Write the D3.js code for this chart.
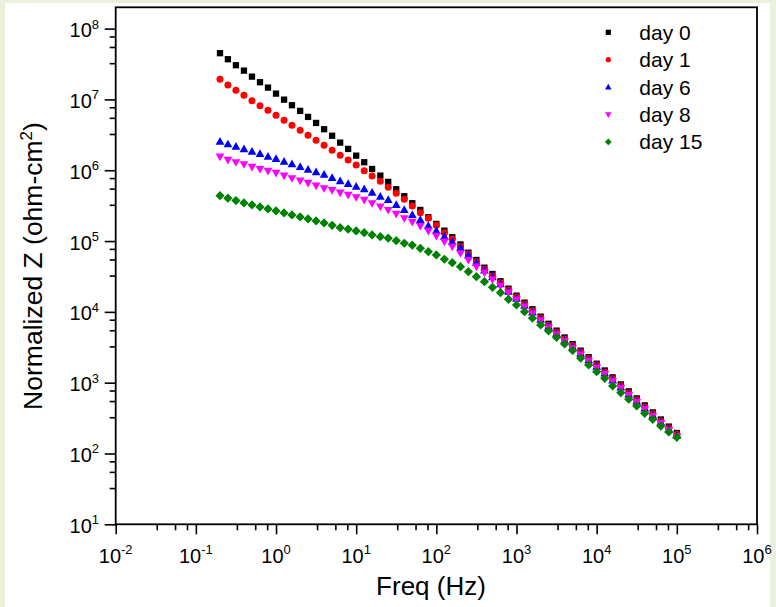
<!DOCTYPE html>
<html>
<head>
<meta charset="utf-8">
<script src="https://cdn.jsdelivr.net/npm/d3@7"></script>
<style>
  body { margin: 0; padding: 0; background: #e9f1da; }
  svg { display: block; }
  text { font-family: "Liberation Sans", Arial, sans-serif; fill: #000; }
</style>
</head>
<body>
<svg id="chart" width="776" height="607"></svg>
<script>
// ---------- DATA ----------
const seriesNames = ["day 0", "day 1", "day 6", "day 8", "day 15"];
const seriesColors = ["#000000", "#ff0000", "#0000ff", "#ff00ff", "#008000"];
const seriesShapes = ["square", "circle", "triangleUp", "triangleDown", "diamond"];

const freqHz = [0.2, 0.251, 0.316, 0.398, 0.501, 0.631, 0.794,
  1, 1.26, 1.58, 2, 2.51, 3.16, 3.98, 5.01, 6.31, 7.94,
  10, 12.6, 15.8, 20, 25.1, 31.6, 39.8, 50.1, 63.1, 79.4,
  100, 126, 158, 200, 251, 316, 398, 501, 631, 794,
  1000, 1260, 1580, 2000, 2510, 3160, 3980, 5010, 6310, 7940,
  10000, 12600, 15800, 20000, 25100, 31600, 39800, 50100, 63100, 79400,
  100000];

// log10 of normalized impedance (ohm-cm^2)
const day0LogZ = [7.653,7.568,7.483,7.407,7.322,7.243,7.167,7.082,6.997,6.918,
  6.838,6.753,6.668,6.579,6.487,6.390,6.301,6.206,6.113,6.018,
  5.924,5.835,5.732,5.633,5.534,5.439,5.336,5.242,5.147,5.054,
  4.952,4.836,4.733,4.624,4.535,4.432,4.328,4.229,4.130,4.037,
  3.932,3.832,3.735,3.638,3.545,3.452,3.360,3.268,3.172,3.075,
  2.975,2.878,2.778,2.680,2.580,2.480,2.380,2.290];
const day1LogZ = [7.285,7.205,7.130,7.059,6.983,6.912,6.847,6.777,6.706,6.636,
  6.565,6.494,6.424,6.353,6.282,6.212,6.145,6.075,5.994,5.919,
  5.845,5.760,5.675,5.590,5.496,5.401,5.322,5.223,5.119,5.030,
  4.924,4.818,4.709,4.606,4.507,4.410,4.310,4.210,4.110,4.015,
  3.912,3.812,3.715,3.618,3.525,3.432,3.340,3.248,3.152,3.055,
  2.955,2.858,2.758,2.660,2.560,2.460,2.360,2.270];
const day6LogZ = [6.404,6.367,6.333,6.297,6.263,6.230,6.192,6.160,6.121,6.085,
  6.047,6.008,5.972,5.938,5.891,5.845,5.806,5.768,5.732,5.684,
  5.627,5.581,5.510,5.439,5.369,5.299,5.213,5.143,5.062,4.987,
  4.905,4.800,4.690,4.585,4.490,4.390,4.285,4.185,4.088,3.992,
  3.890,3.790,3.692,3.595,3.502,3.410,3.318,3.225,3.130,3.032,
  2.932,2.835,2.735,2.638,2.538,2.438,2.340,2.250];
const day8LogZ = [6.192,6.146,6.113,6.085,6.047,6.018,5.990,5.962,5.924,5.887,
  5.853,5.821,5.782,5.746,5.719,5.684,5.651,5.619,5.581,5.534,
  5.486,5.439,5.383,5.322,5.270,5.213,5.143,5.072,4.992,4.921,
  4.828,4.733,4.638,4.554,4.460,4.366,4.271,4.172,4.075,3.980,
  3.878,3.778,3.680,3.584,3.490,3.398,3.306,3.214,3.120,3.022,
  2.922,2.825,2.726,2.628,2.528,2.428,2.330,2.240];
const day15LogZ = [5.641,5.605,5.571,5.538,5.510,5.482,5.453,5.425,5.397,5.369,
  5.340,5.312,5.284,5.256,5.222,5.189,5.167,5.143,5.119,5.086,
  5.062,5.040,5.006,4.969,4.941,4.898,4.850,4.804,4.743,4.695,
  4.638,4.568,4.497,4.427,4.347,4.271,4.178,4.097,4.003,3.910,
  3.815,3.730,3.641,3.547,3.455,3.345,3.250,3.155,3.062,2.953,
  2.859,2.766,2.671,2.568,2.483,2.388,2.304,2.229];

const xMajorExp = [-2, -1, 0, 1, 2, 3, 4, 5, 6];
const yMajorExp = [1, 2, 3, 4, 5, 6, 7, 8];
const minorMultipliers = [3.25, 5.5, 7.75];
const xDomain = [1e-2, 1e6];
const yDomain = [10, 2e8];
const xTitle = "Freq (Hz)";
const yTitleMain = "Normalized Z (ohm-cm";
const yTitleSup = "2";
const yTitleEnd = ")";

// ---------- LAYOUT ----------
const svg = d3.select("#chart");
const L = 115.7, R = 757, T = 7.3, B = 524.3;

svg.append("rect").attr("x", 0).attr("y", 0).attr("width", 776).attr("height", 607).attr("fill", "#e9f1da");
svg.append("rect").attr("x", 5).attr("y", 3).attr("width", 765).attr("height", 604).attr("fill", "#ffffff");

const x = d3.scaleLog().domain(xDomain).range([L, R]);
const y = d3.scaleLog().domain(yDomain).range([B, T]);

function minorsFor(exps, domain) {
  const out = [];
  for (let e = exps[0] - 1; e <= exps[exps.length - 1]; e++) {
    minorMultipliers.forEach(m => {
      const v = m * Math.pow(10, e);
      if (v > domain[0] && v < domain[1]) out.push(v);
    });
  }
  return out;
}

// X axis
const xMajor = xMajorExp.map(e => Math.pow(10, e));
const gx = svg.append("g").attr("transform", `translate(0,${B})`);
gx.call(d3.axisBottom(x).tickValues(minorsFor(xMajorExp, xDomain)).tickSize(6).tickSizeOuter(0).tickFormat(""));
const gxM = svg.append("g").attr("transform", `translate(0,${B})`);
gxM.call(d3.axisBottom(x).tickValues(xMajor).tickSize(10).tickSizeOuter(0).tickFormat(""));
[gx, gxM].forEach(g => {
  g.select(".domain").remove();
  g.selectAll(".tick line").attr("stroke", "#000").attr("stroke-width", 1.6);
  g.selectAll(".tick text").remove();
});
const xLab = svg.append("g");
xMajorExp.forEach(e => {
  const t = xLab.append("text").attr("x", x(Math.pow(10, e))).attr("y", 563)
    .attr("text-anchor", "middle").style("font-size", "20px");
  t.append("tspan").text("10");
  t.append("tspan").attr("dy", -9).style("font-size", "13px").text(String(e));
});

// Y axis
const yMajor = yMajorExp.map(e => Math.pow(10, e));
const gy = svg.append("g").attr("transform", `translate(${L},0)`);
gy.call(d3.axisLeft(y).tickValues(minorsFor(yMajorExp, yDomain)).tickSize(6).tickSizeOuter(0).tickFormat(""));
const gyM = svg.append("g").attr("transform", `translate(${L},0)`);
gyM.call(d3.axisLeft(y).tickValues(yMajor).tickSize(11).tickSizeOuter(0).tickFormat(""));
[gy, gyM].forEach(g => {
  g.select(".domain").remove();
  g.selectAll(".tick line").attr("stroke", "#000").attr("stroke-width", 1.6);
  g.selectAll(".tick text").remove();
});
const yLab = svg.append("g");
yMajorExp.forEach(e => {
  const t = yLab.append("text").attr("x", 99).attr("y", y(Math.pow(10, e)) + 8.5)
    .attr("text-anchor", "end").style("font-size", "20px");
  t.append("tspan").text("10");
  t.append("tspan").attr("dy", -8.5).style("font-size", "13px").text(String(e));
});

// Frame
svg.append("rect").attr("x", L).attr("y", T).attr("width", R - L).attr("height", B - T)
  .attr("fill", "none").attr("stroke", "#000").attr("stroke-width", 1.8);

// Titles
svg.append("text").attr("x", 431).attr("y", 595).attr("text-anchor", "middle")
  .style("font-size", "26px").text(xTitle);
const yt = svg.append("text").attr("transform", `translate(42,266) rotate(-90)`)
  .attr("text-anchor", "middle").style("font-size", "26.5px");
yt.append("tspan").text(yTitleMain);
yt.append("tspan").attr("dy", -10).style("font-size", "17px").text(yTitleSup);
yt.append("tspan").attr("dy", 10).text(yTitleEnd);

// ---------- MARKERS ----------
function shapePath(shape, s) {
  const p = d3.path();
  if (shape === "square") {
    p.rect(-s / 2, -s / 2, s, s);
  } else if (shape === "circle") {
    p.moveTo(s / 2, 0); p.arc(0, 0, s / 2, 0, 2 * Math.PI);
  } else if (shape === "triangleUp") {
    const w = s * 1.25, h = s * 1.1;
    p.moveTo(0, -h * 0.6); p.lineTo(w / 2, h * 0.4); p.lineTo(-w / 2, h * 0.4); p.closePath();
  } else if (shape === "triangleDown") {
    const w = s * 1.25, h = s * 1.1;
    p.moveTo(0, h * 0.6); p.lineTo(w / 2, -h * 0.4); p.lineTo(-w / 2, -h * 0.4); p.closePath();
  } else if (shape === "diamond") {
    const r = s * 0.66;
    p.moveTo(0, -r); p.lineTo(r, 0); p.lineTo(0, r); p.lineTo(-r, 0); p.closePath();
  }
  return p.toString();
}

const allSeries = [day0LogZ, day1LogZ, day6LogZ, day8LogZ, day15LogZ];
const plot = svg.append("g");
allSeries.forEach((vals, si) => {
  const pts = vals.map((v, i) => ({ f: freqHz[i], z: Math.pow(10, v) }));
  plot.append("g").selectAll("path").data(pts).join("path")
    .attr("transform", d => `translate(${x(d.f)},${y(d.z)})`)
    .attr("d", shapePath(seriesShapes[si], si === 0 ? 6.3 : 7))
    .attr("fill", seriesColors[si]);
});

// ---------- LEGEND ----------
const leg = svg.append("g");
seriesNames.forEach((name, i) => {
  const cy = 32.3 + i * 27.4;
  leg.append("path").attr("transform", `translate(608.3,${cy})`)
    .attr("d", shapePath(seriesShapes[i], 5.2)).attr("fill", seriesColors[i]);
  leg.append("text").attr("x", 639.3).attr("y", cy + 7.5).style("font-size", "21px").text(name);
});
</script>
</body>
</html>
